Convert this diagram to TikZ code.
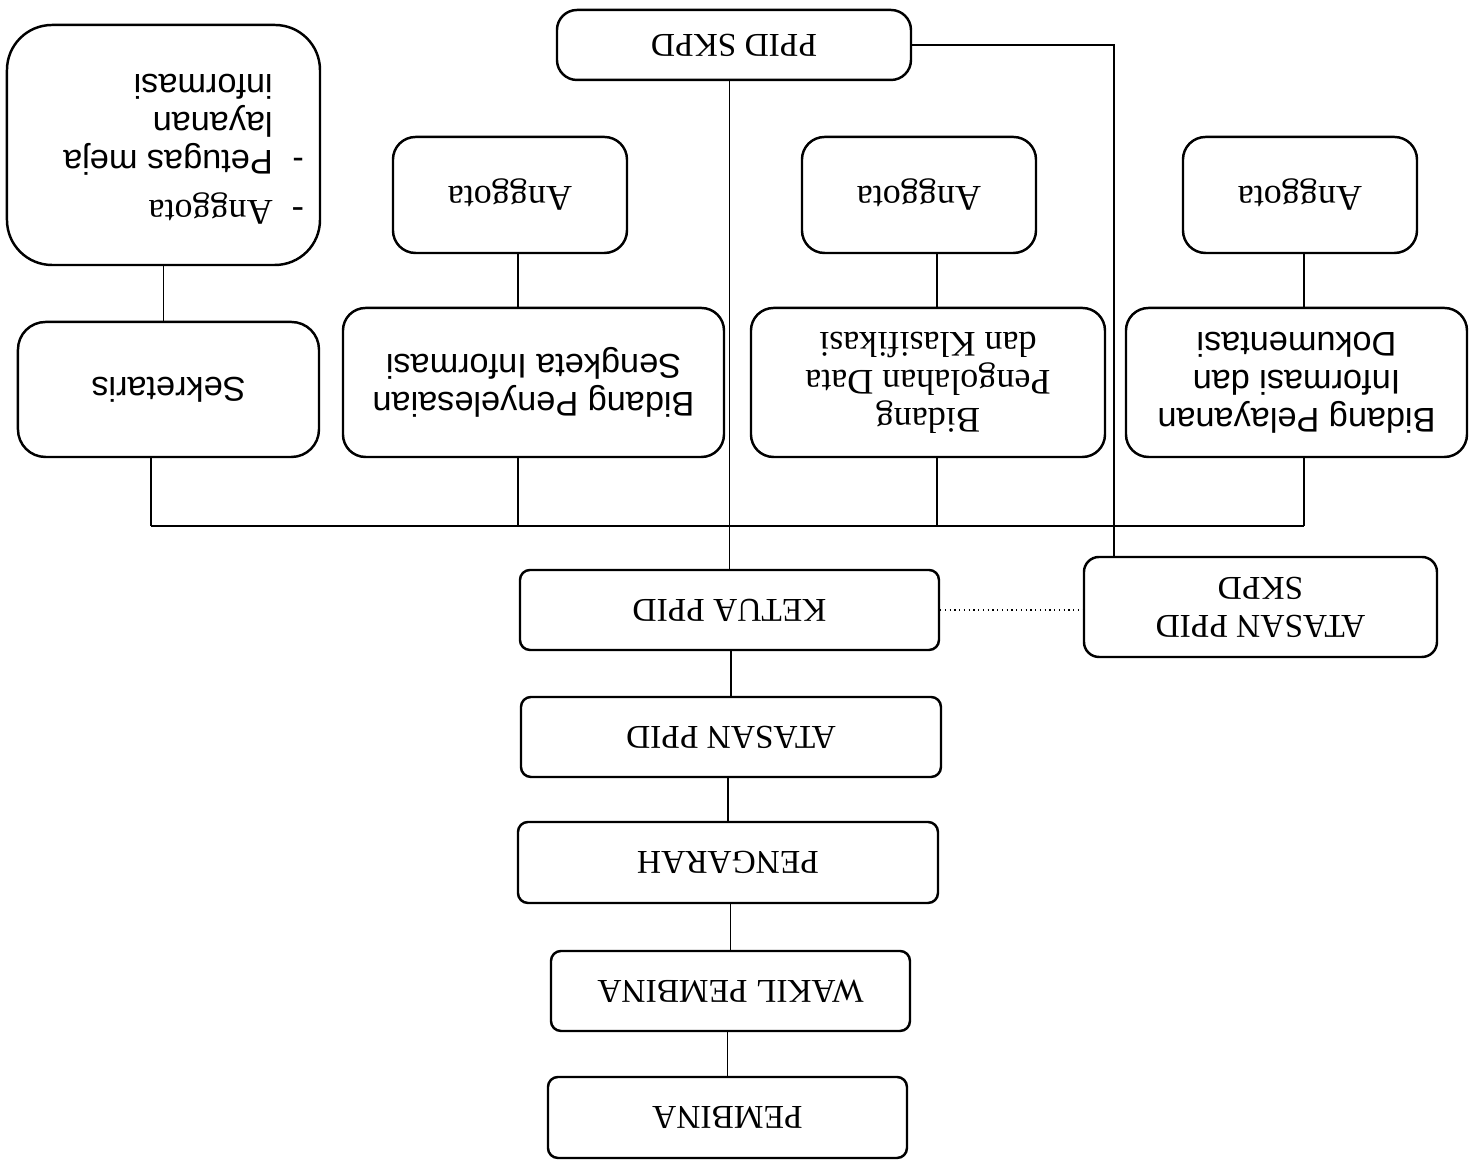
\documentclass[tikz,border=0pt]{standalone}
\usepackage{fontspec}
\setmainfont{Liberation Serif}
\newfontfamily\sansfont{Liberation Sans}

\tikzset{
 box/.style={draw, line width=1.4pt, rounded corners=#1, align=center, inner sep=2pt,
  font=\fontsize{19}{21.6}\selectfont},
 box/.default=2mm,
 sans/.style={font=\sansfont\fontsize{19.5}{21.6}\selectfont},
 serif/.style={font=\fontsize{20.5}{21.6}\selectfont},
}

\begin{document}
\begin{tikzpicture}[x=.2mm, y=-.2mm, rotate=180, transform shape, line width=1.1pt]
\useasboundingbox (0,0) rectangle (1482,1161);
% pimpinan
\node[box, minimum width=7.18cm, minimum height=1.62cm] (pembina) at (754.5,43.5) {PEMBINA};
\node[box, minimum width=7.18cm, minimum height=1.6cm] (wakil) at (751.5,170) {WAKIL PEMBINA};
\node[box, minimum width=8.4cm, minimum height=1.62cm] (pengarah) at (754,298.5) {PENGARAH};
\node[box, minimum width=8.4cm, minimum height=1.6cm] (atasan) at (751,424) {ATASAN PPID};
\node[box, minimum width=8.38cm, minimum height=1.6cm] (ketua) at (752.5,551) {KETUA PPID};
\node[box=3mm, minimum width=7.06cm, minimum height=2cm] (atasanskpd) at (221.5,554) {ATASAN PPID\\SKPD};
% bidang
\node[box=4.5mm, sans, minimum width=6.82cm, minimum height=2.98cm] (bid1) at (185.5,778.5) {Bidang Pelayanan\\Informasi dan\\Dokumentasi};
\node[box=4.5mm, serif, minimum width=7.08cm, minimum height=2.98cm] (bid2) at (554,778.5) {Bidang\\Pengolahan Data\\dan Klasifikasi};
\node[box=4.5mm, sans, minimum width=7.62cm, minimum height=2.98cm] (bid3) at (948.5,778.5) {Bidang Penyelesaian\\Sengketa Informasi};
\node[box=5.5mm, sans, minimum width=6.02cm, minimum height=2.7cm] (sekr) at (1313.5,771.5) {Sekretaris};
% anggota
\foreach \n/\x in {ang1/182, ang2/563, ang3/972}
 \node[box=4.5mm, serif, minimum width=4.68cm, minimum height=2.32cm] (\n) at (\x,966) {Anggota};
\node[box=9mm, sans, minimum width=6.26cm, minimum height=4.8cm] (anglist) at (1318.5,1016)
 {\begin{tabular}{@{}l@{\ \ }l@{}}
  {\rmfamily\fontsize{20.5}{21.6}\selectfont -} & {\rmfamily\fontsize{20.5}{21.6}\selectfont Anggota}\\[7pt]
  - & Petugas meja\\
    & layanan\\
    & informasi
 \end{tabular}\hspace*{.8cm}};
\node[box=4mm, minimum width=7.08cm, minimum height=1.4cm] (skpd) at (748,1116) {PPID SKPD};

% garis
\foreach \a/\b in {pembina/wakil, wakil/pengarah, pengarah/atasan, atasan/ketua, ketua/skpd}
 \draw (\a.south) -- (\a.south |- \b.north);
\draw[dotted, line width=.7pt] (ketua.west) -- (ketua.west -| atasanskpd.east);

\coordinate (b1) at (178,635);
\coordinate (b2) at (545,635);
\coordinate (b3) at (964,635);
\coordinate (b4) at (1331,635);
\draw (b1) -- (b4);
\foreach \b/\n/\m in {b1/bid1/ang1, b2/bid2/ang2, b3/bid3/ang3} {
 \draw (\b) -- (\b |- \n.north);
 \draw (\b |- \n.south) -- (\b |- \m.north);
}
\draw (b4) -- (b4 |- sekr.north);
\draw (anglist.north) -- (anglist.north |- sekr.south);

\coordinate (turn) at (368,1116);
\draw (skpd.west) -- (turn) -- (turn |- atasanskpd.south);
\end{tikzpicture}
\end{document}
